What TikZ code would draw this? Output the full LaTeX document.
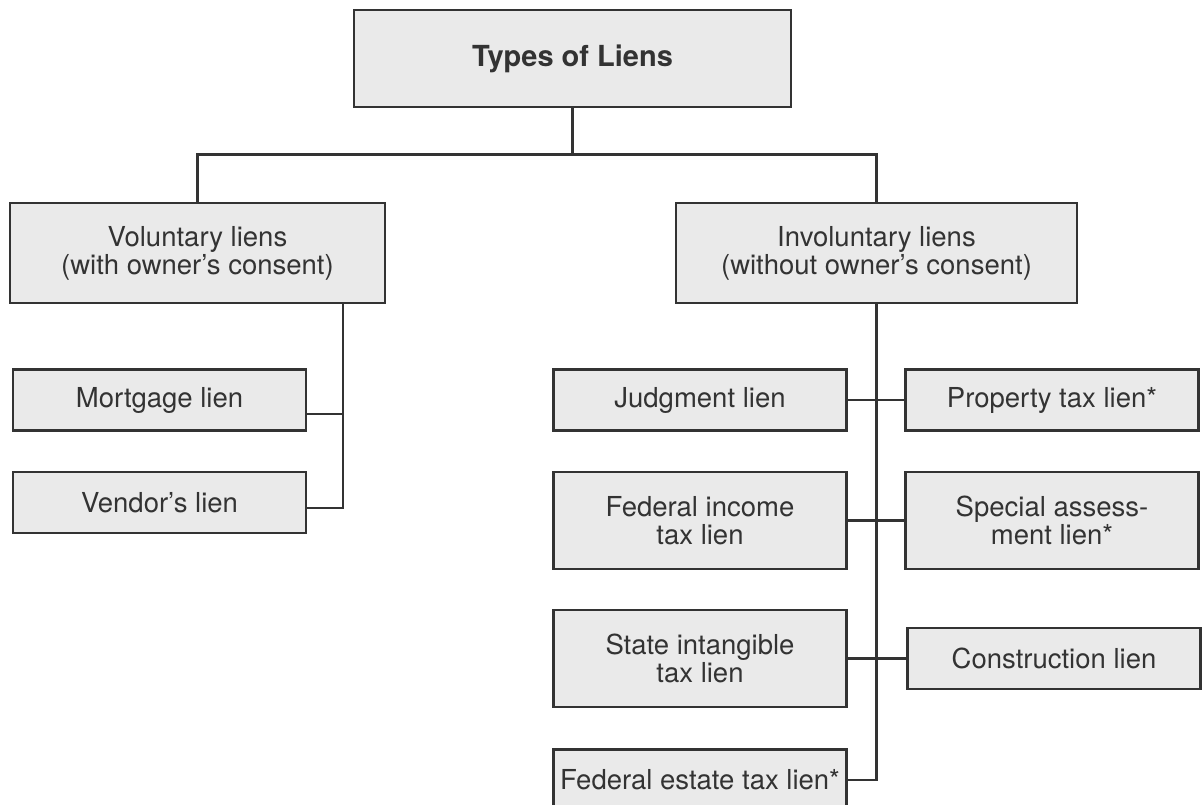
\documentclass[tikz,border=0pt]{standalone}
\usepackage{fontspec}
\setmainfont{TeX Gyre Heros}
\usepackage{xcolor}
\usetikzlibrary{positioning}
\definecolor{boxfill}{HTML}{EAEAEA}
\definecolor{ink}{HTML}{333333}

\begin{document}
\begin{tikzpicture}[x=1pt,y=-1pt,on grid,node distance=120pt,
  lienbox/.style={draw=ink,fill=boxfill,text=ink,line width=2.6pt,align=center,
    inner sep=0pt,font=\fontsize{27.5}{28}\selectfont},
  leaf/.style={lienbox,minimum width=293pt,minimum height=61pt},
  tallleaf/.style={leaf,minimum height=97pt},
  link/.style={draw=ink,line width=2.6pt}]

  \useasboundingbox (0,0) rectangle (1202,805);

  \node[lienbox,minimum width=437pt,minimum height=97pt,
        font=\fontsize{29}{32}\selectfont\bfseries] (top) at (572.5,58.5) {Types of Liens};

  \node[lienbox,minimum width=375pt,minimum height=100pt] (vol) at (197.5,253)
        {Voluntary liens\\(with owner's consent)};
  \node[lienbox,minimum width=401pt,minimum height=100pt] (invol) [right=679pt of vol]
        {Involuntary liens\\(without owner's consent)};

  % voluntary side
  \node[leaf] (mort) [below left=147pt and 38pt of vol] {Mortgage lien};
  \node[leaf] (vend) [below=102.5pt of mort] {Vendor's lien};

  % involuntary side
  \node[leaf] (judg) [below left=147pt and 176.5pt of invol] {Judgment lien};
  \node[leaf] (prop) [right=352pt of judg] {Property tax lien*};
  \node[tallleaf] (fedinc) [below=120.5pt of judg] {Federal income\\tax lien};
  \node[tallleaf] (spec) [right=352pt of fedinc] {Special assess-\\ment lien*};
  \node[tallleaf] (state) [below=138pt of fedinc] {State intangible\\tax lien};
  \node[leaf] (constr) [right=354pt of state] {Construction lien};
  \node[leaf] (estate) [below=121.5pt of state] {Federal estate tax lien*};

  \draw[link] (top.south) -- ++(0,46) coordinate (fork);
  \draw[link] (vol.north) |- (fork) -| (invol.north);

  \draw[link] ([xshift=145.5pt]vol.south) |- ([yshift=-5.5pt]vend.east);
  \draw[link] ([yshift=-14pt]mort.east) -- ++(37,0);

  \draw[link] (invol.south) |- (estate.east);
  \draw[link] (judg.east) -- (prop.west);
  \draw[link] (fedinc.east) -- (spec.west);
  \draw[link] (state.east) -- (constr.west);

\end{tikzpicture}
\end{document}
